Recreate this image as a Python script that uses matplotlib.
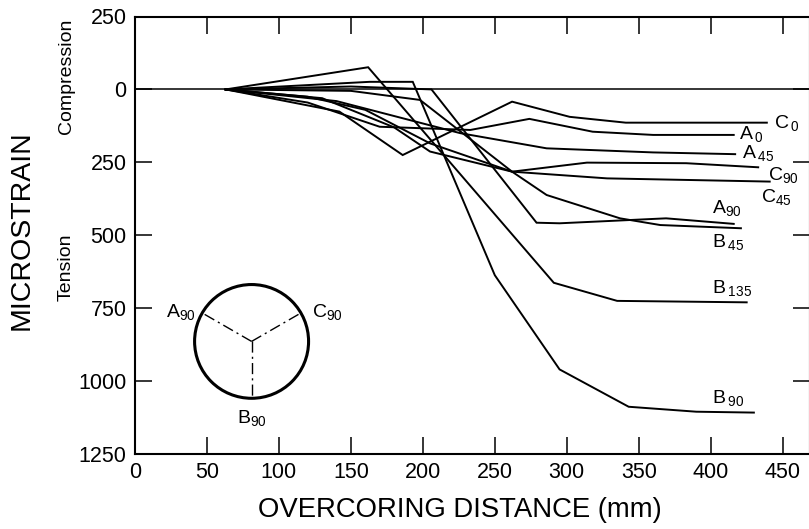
import numpy as np
import matplotlib
matplotlib.use("Agg")
import matplotlib.pyplot as plt
from matplotlib.patches import Ellipse

plt.rcParams['font.family'] = ['Liberation Sans', 'DejaVu Sans']
plt.rcParams['mathtext.fontset'] = 'custom'
plt.rcParams['mathtext.rm'] = 'Liberation Sans'
plt.rcParams['mathtext.it'] = 'Liberation Sans:italic'

# overcoring distance (mm) / microstrain (positive = tension, negative = compression)
c0_x = [63, 142, 186, 262, 302, 341, 439]
c0_y = [0, 76, 225, 42, 94, 114, 114]
a0_x = [63, 120, 170, 233, 274, 318, 360, 416]
a0_y = [0, 45, 128, 139, 101, 145, 156, 156]
a45_x = [63, 140, 226, 286, 360, 417]
a45_y = [0, 40, 150, 202, 216, 222]
c90_x = [63, 120, 160, 205, 262, 314, 383, 433]
c90_y = [0, 25, 70, 185, 282, 251, 253, 267]
c45_x = [63, 130, 180, 205, 262, 328, 441]
c45_y = [0, 30, 130, 213, 282, 305, 316]
a90_x = [63, 150, 206, 279, 295, 369, 416]
a90_y = [0, -10, 0, 457, 459, 442, 461]
b45_x = [63, 150, 198, 262, 286, 337, 365, 421]
b45_y = [0, 5, 36, 282, 362, 442, 465, 476]
b135_x = [63, 162, 291, 335, 425]
b135_y = [0, -76, 663, 725, 730]
b90_x = [63, 163, 193, 250, 295, 343, 390, 430]
b90_y = [0, -26, -26, 637, 960, 1088, 1105, 1108]

x_ticks = [0, 50, 100, 150, 200, 250, 300, 350, 400, 450]
y_ticks = [-250, 0, 250, 500, 750, 1000, 1250]
y_tick_labels = ['250', '0', '250', '500', '750', '1000', '1250']

W, H = 809, 529
fig = plt.figure(figsize=(W / 100, H / 100), dpi=100)
ax = fig.add_axes([135 / W, 1 - 454 / H, (810 - 135) / W, (454 - 16.5) / H])

series = [
    (c0_x, c0_y, r'C$\,_{0}$', (444, 132)),
    (a0_x, a0_y, r'A$\,_{0}$', (420, 170)),
    (a45_x, a45_y, r'A$\,_{45}$', (422, 235)),
    (c90_x, c90_y, r'C$_{90}$', (440, 311)),
    (c45_x, c45_y, r'C$_{45}$', (435, 386)),
    (a90_x, a90_y, r'A$_{90}$', (401, 424)),
    (b45_x, b45_y, r'B$\,_{45}$', (401, 540)),
    (b135_x, b135_y, r'B$\,_{135}$', (401, 698)),
    (b90_x, b90_y, r'B$\,_{90}$', (401, 1075)),
]

ax.axhline(0, color='black', lw=1.1)
for xs, ys, lab, (tx, ty) in series:
    ax.plot(xs, ys, color='black', lw=1.4, solid_joinstyle='miter')
    ax.text(tx, ty, lab, fontsize=14, ha='left', va='baseline')

ax.set_xlim(0, 469)
ax.set_ylim(1250, -250)
ax.set_xticks(x_ticks)
ax.set_yticks(y_ticks)
ax.set_yticklabels(y_tick_labels)
ax.tick_params(direction='in', length=12, width=1.1, labelsize=15.5,
               top=True, right=True, pad=6)
for sp in ax.spines.values():
    sp.set_linewidth(1.5)

# gauge orientation sketch
cx, cy, rx, ry = 81, 864, 39.6, 195
ax.add_patch(Ellipse((cx, cy), 2 * rx, 2 * ry, fill=False, lw=2.2, color='black'))
for ang in (150, 30, 270):
    t = np.deg2rad(ang)
    ax.plot([cx, cx + rx * np.cos(t)], [cy, cy - ry * np.sin(t)],
            color='black', lw=1.0, dashes=(8, 3, 1.5, 3))
ax.text(42, 780, r'A$_{90}$', fontsize=14, ha='right', va='baseline')
ax.text(123, 780, r'C$_{90}$', fontsize=14, ha='left', va='baseline')
ax.text(81, 1144, r'B$_{90}$', fontsize=14, ha='center', va='baseline')

fig.text(22 / W, 1 - 230 / H, 'MICROSTRAIN', rotation=90, fontsize=20.5,
         ha='center', va='center')
fig.text(66 / W, 1 - 76 / H, 'Compression', rotation=90, fontsize=14,
         ha='center', va='center')
fig.text(66 / W, 1 - 267 / H, 'Tension', rotation=90, fontsize=14,
         ha='center', va='center')
fig.text(460 / W, 1 - 510 / H, 'OVERCORING DISTANCE (mm)', fontsize=19.8,
         ha='center', va='center')

fig.savefig('out.png', dpi=100)
